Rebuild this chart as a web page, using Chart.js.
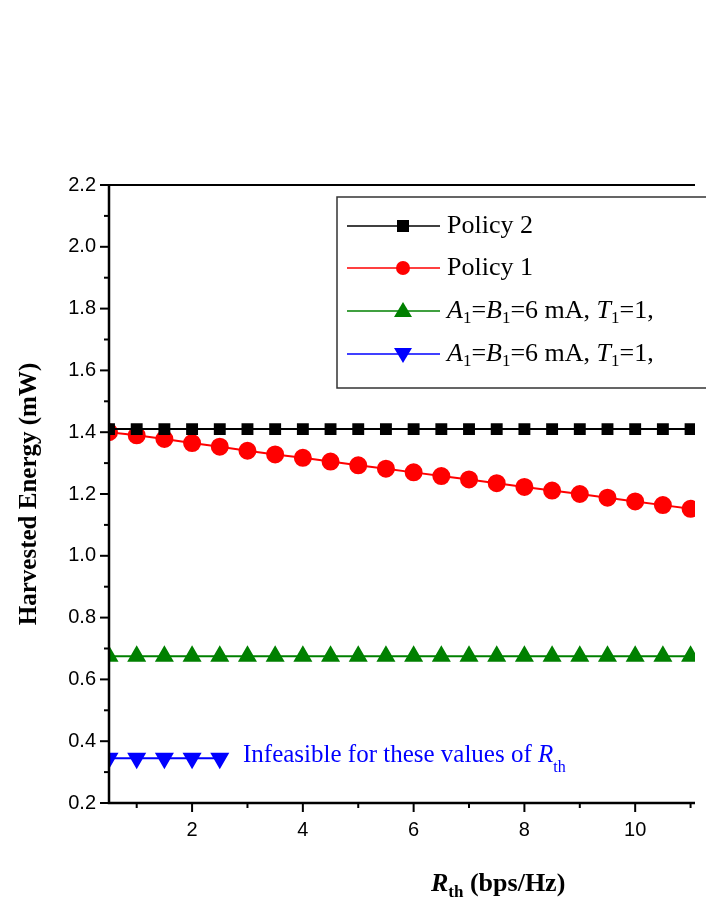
<!DOCTYPE html>
<html><head><meta charset="utf-8">
<script src="https://cdn.jsdelivr.net/npm/chart.js"></script>
<style>html,body{margin:0;padding:0;background:#fff}#w{width:706px;height:913px}</style>
</head><body><div id="w"><canvas id="c"></canvas></div>
<script>
const rth = [0.5,1,1.5,2,2.5,3,3.5,4,4.5,5,5.5,6,6.5,7,7.5,8,8.5,9,9.5,10,10.5,11];
const policy2 = [1.41,1.41,1.41,1.41,1.41,1.41,1.41,1.41,1.41,1.41,1.41,1.41,1.41,1.41,1.41,1.41,1.41,1.41,1.41,1.41,1.41,1.41];
const policy1 = [1.40,1.39,1.378,1.365,1.353,1.34,1.328,1.317,1.305,1.293,1.282,1.27,1.258,1.247,1.235,1.223,1.211,1.2,1.188,1.176,1.164,1.152];
const greenS = [0.675,0.675,0.675,0.675,0.675,0.675,0.675,0.675,0.675,0.675,0.675,0.675,0.675,0.675,0.675,0.675,0.675,0.675,0.675,0.675,0.675,0.675];
const blueX = [0.5,1,1.5,2,2.5];
const blueS = [0.345,0.345,0.345,0.345,0.345];
const yTicks = [0.2,0.4,0.6,0.8,1.0,1.2,1.4,1.6,1.8,2.0,2.2];
const xTicks = [2,4,6,8,10];

const pts = (xs, ys) => xs.map((x,i)=>({x, y: ys[i]}));
const serif = '"Liberation Serif", "Times New Roman", serif';
const sans = '"Liberation Sans", Arial, sans-serif';

const deco = {
  id: 'deco',
  afterDraw(chart) {
    const ctx = chart.ctx, a = chart.chartArea, xs = chart.scales.x, ys = chart.scales.y;
    ctx.save();
    ctx.strokeStyle = '#000'; ctx.lineWidth = 2.5;
    ctx.beginPath(); ctx.moveTo(a.left, a.top); ctx.lineTo(a.left, a.bottom); ctx.lineTo(a.right, a.bottom); ctx.stroke();
    ctx.lineWidth = 2;
    ctx.beginPath(); ctx.moveTo(a.left, a.top); ctx.lineTo(a.right, a.top); ctx.stroke();
    ctx.fillStyle = '#000'; ctx.font = '20px ' + sans; ctx.textAlign = 'right'; ctx.textBaseline = 'middle';
    for (let v = 0.2; v <= 2.2001; v += 0.1) {
      const p = ys.getPixelForValue(v);
      const major = Math.round(v*10) % 2 === 0;
      ctx.beginPath(); ctx.moveTo(a.left, p); ctx.lineTo(a.left - (major ? 9 : 5), p); ctx.stroke();
    }
    yTicks.forEach(v => ctx.fillText(v.toFixed(1), a.left - 13, ys.getPixelForValue(v)));
    ctx.textAlign = 'center'; ctx.textBaseline = 'top';
    for (let v = 1; v <= 11; v++) {
      const p = xs.getPixelForValue(v);
      ctx.beginPath(); ctx.moveTo(p, a.bottom); ctx.lineTo(p, a.bottom + (v % 2 === 0 ? 9 : 5)); ctx.stroke();
    }
    xTicks.forEach(v => ctx.fillText(String(v), xs.getPixelForValue(v), a.bottom + 17));
    ctx.font = 'bold 25px ' + serif; ctx.textBaseline = 'middle';
    ctx.save(); ctx.translate(30, 494); ctx.rotate(-Math.PI/2); ctx.textAlign = 'center';
    ctx.fillText('Harvested Energy (mW)', 0, 0); ctx.restore();
    ctx.textAlign = 'left';
    ctx.font = 'bold italic 26px ' + serif; ctx.fillText('R', 431, 884);
    let w = ctx.measureText('R').width;
    ctx.font = 'bold 17px ' + serif; ctx.fillText('th', 431 + w, 893);
    let w2 = ctx.measureText('th').width;
    ctx.font = 'bold 26px ' + serif; ctx.fillText(' (bps/Hz)', 431 + w + w2, 884);
    ctx.fillStyle = '#0000ff'; ctx.font = '25px ' + serif;
    let t = 'Infeasible for these values of ';
    ctx.fillText(t, 243, 755); let tw = ctx.measureText(t).width;
    ctx.font = 'italic 25px ' + serif; ctx.fillText('R', 243 + tw, 755);
    let rw = ctx.measureText('R').width;
    ctx.font = '16px ' + serif; ctx.fillText('th', 243 + tw + rw, 768);
    ctx.fillStyle = '#fff'; ctx.fillRect(337, 197, 380, 191);
    ctx.strokeStyle = '#333'; ctx.lineWidth = 1.5; ctx.strokeRect(337, 197, 380, 191);
    const items = [
      {c:'#000', s:'rect', y:226}, {c:'#ff0000', s:'circle', y:268},
      {c:'#008000', s:'triangle', y:311}, {c:'#0000ff', s:'tri', y:354}];
    items.forEach((it, i) => {
      ctx.strokeStyle = it.c; ctx.fillStyle = it.c; ctx.lineWidth = 1.5;
      ctx.beginPath(); ctx.moveTo(347, it.y); ctx.lineTo(440, it.y); ctx.stroke();
      const mx = 403, my = it.y;
      ctx.beginPath();
      if (it.s === 'rect') ctx.rect(mx-6, my-6, 12, 12);
      else if (it.s === 'circle') ctx.arc(mx, my, 7, 0, Math.PI*2);
      else if (it.s === 'triangle') { ctx.moveTo(mx, my-9); ctx.lineTo(mx+9, my+6); ctx.lineTo(mx-9, my+6); ctx.closePath(); }
      else { ctx.moveTo(mx, my+9); ctx.lineTo(mx+9, my-6); ctx.lineTo(mx-9, my-6); ctx.closePath(); }
      ctx.fill();
      ctx.fillStyle = '#000'; ctx.textBaseline = 'middle';
      let x = 447;
      if (i < 2) { ctx.font = '26px ' + serif; ctx.fillText(i === 0 ? 'Policy 2' : 'Policy 1', x, my); }
      else {
        const parts = [['A','i'],['1','s'],['=',''],['B','i'],['1','s'],['=6 mA, ',''],['T','i'],['1','s'],['=1, ','']];
        parts.forEach(([txt, k]) => {
          ctx.font = (k === 'i' ? 'italic 26px ' : k === 's' ? '17px ' : '26px ') + serif;
          ctx.fillText(txt, x, k === 's' ? my + 8 : my);
          x += ctx.measureText(txt).width;
        });
      }
    });
    ctx.restore();
  }
};

new Chart(document.getElementById('c'), {
  type: 'line',
  data: { datasets: [
    { data: pts(rth, policy2), borderColor:'#000', backgroundColor:'#000', pointStyle:'rect', pointRadius:7, borderWidth:2 },
    { data: pts(rth, policy1), borderColor:'#ff0000', backgroundColor:'#ff0000', pointStyle:'circle', pointRadius:8, borderWidth:2 },
    { data: pts(rth, greenS), borderColor:'#008000', backgroundColor:'#008000', pointStyle:'triangle', pointRadius:9, borderWidth:2 },
    { data: pts(blueX, blueS), borderColor:'#0000ff', backgroundColor:'#0000ff', pointStyle:'triangle', rotation:180, pointRadius:9, borderWidth:2 }
  ]},
  options: {
    responsive: true, maintainAspectRatio: false, animation: false,
    layout: { padding: { top: 185, right: -11, left: 0, bottom: 0 } },
    plugins: { legend: { display: false }, tooltip: { enabled: false } },
    elements: { line: { tension: 0 }, point: { borderWidth: 0 } },
    scales: {
      x: { type:'linear', min:0.5, max:11.08, grid:{display:false}, border:{display:false}, ticks:{display:false},
           afterFit(s){ s.height = 110; } },
      y: { min:0.2, max:2.2, grid:{display:false}, border:{display:false}, ticks:{display:false},
           afterFit(s){ s.width = 109; } }
    }
  },
  plugins: [deco]
});
</script></body></html>
